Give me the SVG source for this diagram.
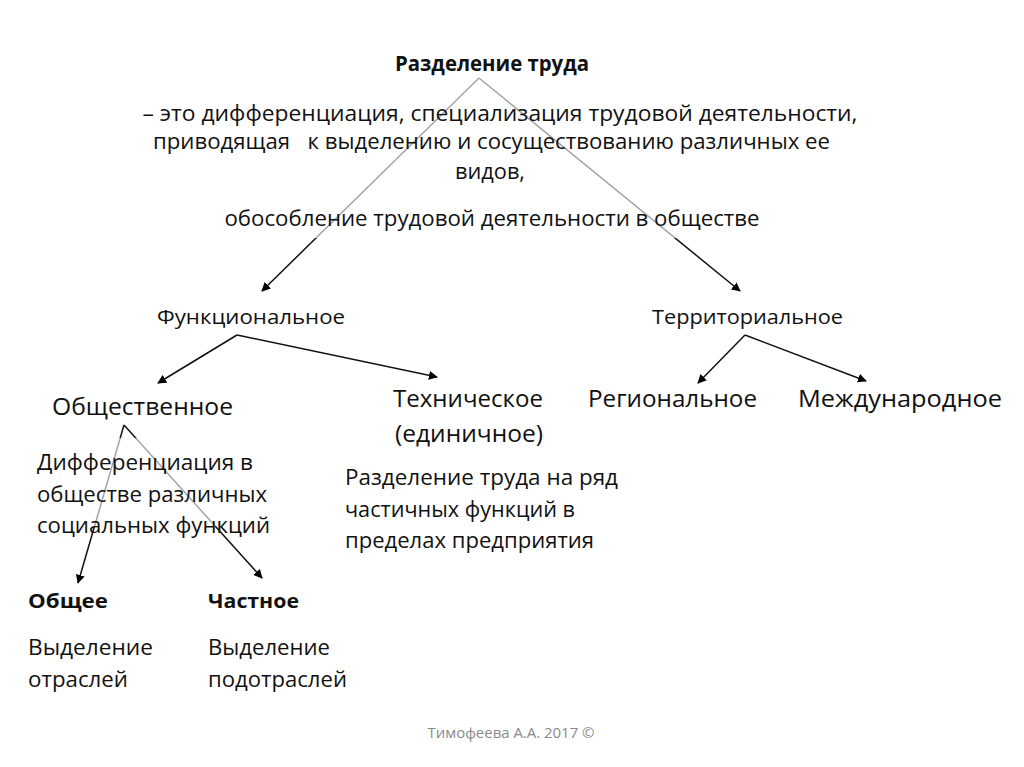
<svg xmlns="http://www.w3.org/2000/svg" width="1024" height="767" viewBox="0 0 1024 767">
<defs>
<marker id="ah" viewBox="0 0 10 10" refX="9" refY="5" markerWidth="9" markerHeight="9" markerUnits="userSpaceOnUse" orient="auto">
<path d="M0,0 L10,5 L0,10 z" fill="#000"/>
</marker>
<style>
text{font-family:"Open Sans","Noto Sans","DejaVu Sans",sans-serif;fill:#111;}
.c{stroke:#111;stroke-width:1.5;fill:none;marker-end:url(#ah);}
.b{font-weight:bold;}
.m{text-anchor:middle;}
.veil{fill:#fff;fill-opacity:0.62;}
</style>
</defs>
<rect width="1024" height="767" fill="#fff"/>
<g id="connectors">
<path class="c" d="M479,78 L262,291"/>
<path class="c" d="M479,78 L740,291"/>
<path class="c" d="M237,335 L158,383"/>
<path class="c" d="M237,335 L437,377"/>
<path class="c" d="M745,335 L698,383"/>
<path class="c" d="M745,335 L866,381"/>
<path class="c" d="M124,425 L78,583"/>
<path class="c" d="M124,425 L262,578"/>
</g>
<rect class="veil" x="140" y="76" width="720" height="162"/>
<rect class="veil" x="30" y="438" width="260" height="88"/>
<g id="root">
<text class="b m" x="492" y="71" font-size="21" textLength="194" lengthAdjust="spacingAndGlyphs">Разделение труда</text>
<text class="m" x="500" y="121" font-size="22" textLength="715" lengthAdjust="spacingAndGlyphs">– это дифференциация, специализация трудовой деятельности,</text>
<text x="153" y="149" font-size="22" textLength="677" lengthAdjust="spacingAndGlyphs" xml:space="preserve">приводящая   к выделению и сосуществованию различных ее</text>
<text class="m" x="490" y="179" font-size="22" textLength="70" lengthAdjust="spacingAndGlyphs">видов,</text>
<text class="m" x="492" y="226" font-size="22" textLength="535" lengthAdjust="spacingAndGlyphs">обособление трудовой деятельности в обществе</text>
</g>
<g id="functional">
<text x="157" y="324" font-size="20" textLength="188" lengthAdjust="spacingAndGlyphs">Функциональное</text>
</g>
<g id="territorial">
<text x="652" y="324" font-size="20" textLength="191" lengthAdjust="spacingAndGlyphs">Территориальное</text>
</g>
<g id="social">
<text x="52" y="415" font-size="24" textLength="181" lengthAdjust="spacingAndGlyphs">Общественное</text>
<text x="37" y="470" font-size="22" textLength="216" lengthAdjust="spacingAndGlyphs">Дифференциация в</text>
<text x="37" y="502" font-size="22" textLength="230" lengthAdjust="spacingAndGlyphs">обществе различных</text>
<text x="37" y="533" font-size="22" textLength="233" lengthAdjust="spacingAndGlyphs">социальных функций</text>
</g>
<g id="technical">
<text x="393" y="407" font-size="24" textLength="150" lengthAdjust="spacingAndGlyphs">Техническое</text>
<text x="395" y="442" font-size="24" textLength="148" lengthAdjust="spacingAndGlyphs">(единичное)</text>
<text x="345" y="485" font-size="21" textLength="273" lengthAdjust="spacingAndGlyphs">Разделение труда на ряд</text>
<text x="345" y="517" font-size="21" textLength="230" lengthAdjust="spacingAndGlyphs">частичных функций в</text>
<text x="345" y="548" font-size="21" textLength="249" lengthAdjust="spacingAndGlyphs">пределах предприятия</text>
</g>
<g id="regional">
<text x="588" y="407" font-size="24" textLength="169" lengthAdjust="spacingAndGlyphs">Региональное</text>
</g>
<g id="international">
<text x="798" y="407" font-size="24" textLength="204" lengthAdjust="spacingAndGlyphs">Международное</text>
</g>
<g id="general">
<text class="b" x="28" y="608" font-size="20" textLength="80" lengthAdjust="spacingAndGlyphs">Общее</text>
<text x="28" y="655" font-size="21" textLength="125" lengthAdjust="spacingAndGlyphs">Выделение</text>
<text x="28" y="687" font-size="21" textLength="100" lengthAdjust="spacingAndGlyphs">отраслей</text>
</g>
<g id="particular">
<text class="b" x="208" y="608" font-size="20" textLength="91" lengthAdjust="spacingAndGlyphs">Частное</text>
<text x="208" y="655" font-size="21" textLength="122" lengthAdjust="spacingAndGlyphs">Выделение</text>
<text x="208" y="687" font-size="21" textLength="139" lengthAdjust="spacingAndGlyphs">подотраслей</text>
</g>
<text class="m" x="511" y="738" font-size="14" style="fill:#8a8a8a" textLength="167" lengthAdjust="spacingAndGlyphs">Тимофеева А.А. 2017 ©</text>
</svg>
